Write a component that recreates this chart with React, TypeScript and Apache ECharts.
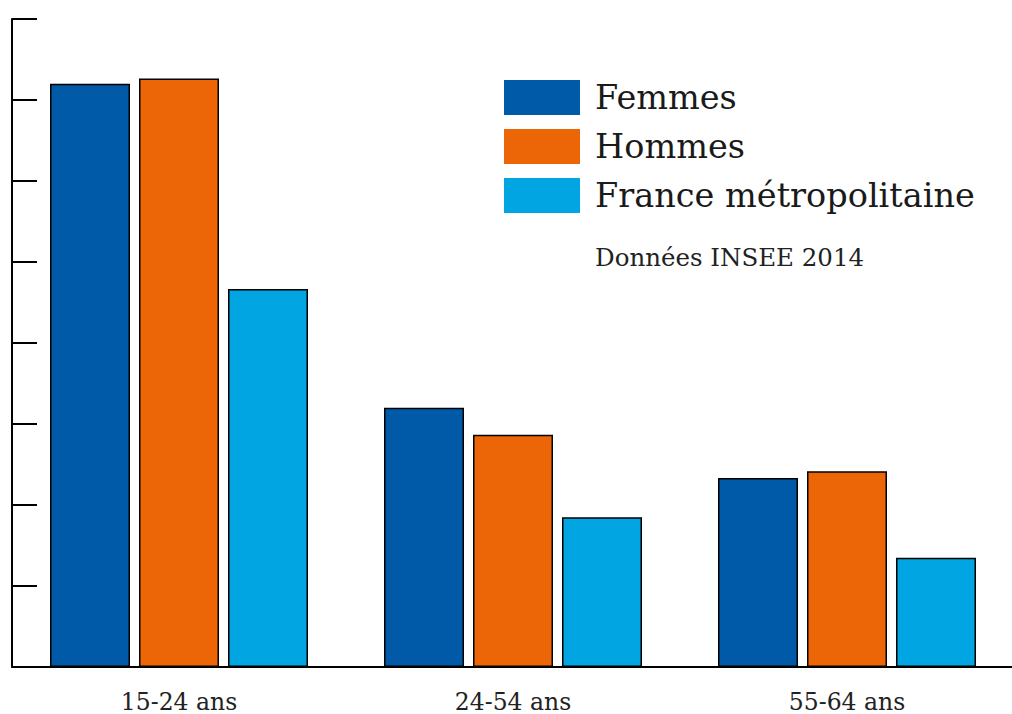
import React, { useEffect, useRef } from "react";
import * as echarts from "echarts";

const categories = ["15-24 ans", "24-54 ans", "55-64 ans"];
const seriesNames = ["Femmes", "Hommes", "France métropolitaine"];
const femmes = [21.6, 9.6, 7.0];
const hommes = [21.8, 8.6, 7.25];
const france = [14.0, 5.55, 4.05];
const colors = ["#005AA8", "#EC6608", "#00A5E1"];
const sourceNote = "Données INSEE 2014";

const FONT = "DejaVu Serif";

export default function App() {
  const ref = useRef<HTMLDivElement>(null);
  useEffect(() => {
    if (!ref.current) return;
    const chart = echarts.init(ref.current, undefined, { renderer: "svg" });
    const values = [femmes, hommes, france];
    chart.setOption({
      animation: false,
      grid: { left: 12, top: 19, width: 1002, bottom: 47, containLabel: false },
      legend: {
        orient: "vertical",
        left: 504,
        top: 80,
        padding: 0,
        itemWidth: 76,
        itemHeight: 35,
        itemGap: 14,
        icon: "rect",
        selectedMode: false,
        itemStyle: { borderWidth: 0 },
        textStyle: {
          fontFamily: FONT,
          fontSize: 33.5,
          lineHeight: 35,
          color: "#1a1a1a",
          padding: [0, 0, 0, 10],
        },
        data: seriesNames,
      },
      graphic: [
        {
          type: "text",
          x: 595,
          y: 257,
          style: {
            text: sourceNote,
            fontFamily: FONT,
            fontSize: 24.5,
            verticalAlign: "middle",
            fill: "#222",
          },
        },
      ],
      xAxis: {
        type: "category",
        data: categories,
        boundaryGap: true,
        axisLine: { lineStyle: { color: "#000", width: 2 } },
        axisTick: { inside: true, length: 15, lineStyle: { color: "#000", width: 2 } },
        axisLabel: {
          margin: 25,
          fontFamily: FONT,
          fontSize: 23.5,
          lineHeight: 20,
          color: "#222",
        },
      },
      yAxis: {
        type: "value",
        min: 0,
        max: 24,
        interval: 3,
        axisLine: { show: true, lineStyle: { color: "#000", width: 2 } },
        axisTick: { show: true, inside: true, length: 25, lineStyle: { color: "#000", width: 2 } },
        axisLabel: { show: false },
        splitLine: { show: false },
      },
      series: seriesNames.map((name, i) => ({
        name,
        type: "bar",
        data: values[i],
        barWidth: 80,
        barGap: "11.25%",
        itemStyle: { color: colors[i], borderColor: "#000", borderWidth: 1.5 },
      })),
    });
    return () => chart.dispose();
  }, []);
  return (
    <div style={{ position: "fixed", left: 0, top: 0, width: 1012, height: 714, overflow: "hidden", background: "#fff" }}>
      <div ref={ref} style={{ width: 1020, height: 714 }} />
    </div>
  );
}
